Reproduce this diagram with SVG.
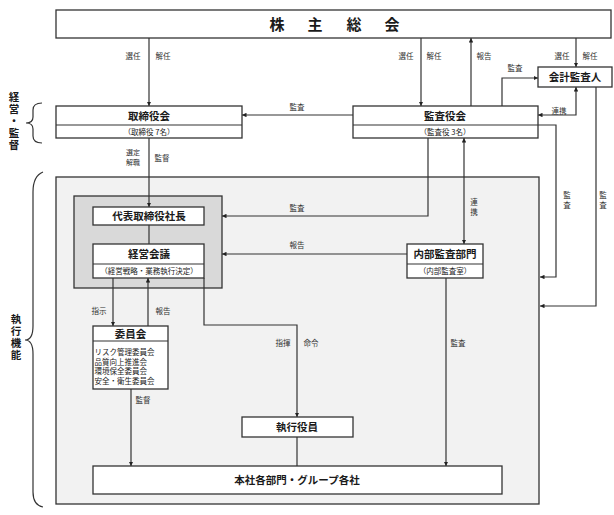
<svg xmlns="http://www.w3.org/2000/svg" width="614" height="515" viewBox="0 0 614 515">
<defs>
<marker id="ah" viewBox="0 0 8 8" refX="8" refY="4" markerWidth="4.5" markerHeight="4.5" markerUnits="userSpaceOnUse" orient="auto-start-reverse">
<path d="M0,0 L8,4 L0,8 z" fill="#222"/>
</marker>
<style>
text{font-family:"Noto Sans CJK JP","Noto Sans CJK SC",sans-serif;fill:#1a1a1a}
.box{fill:#fff;stroke:#333;stroke-width:1.3}
.t{font-size:10.5px;font-weight:700;text-anchor:middle}
.s{font-size:7.5px;text-anchor:middle}
.l{font-size:7.5px;text-anchor:middle;fill:#333}
.v{writing-mode:vertical-rl;letter-spacing:2.5px}
.li{font-size:7.5px}
.c{fill:none;stroke:#333;stroke-width:1.2}
.a{marker-end:url(#ah)}
.b{marker-start:url(#ah);marker-end:url(#ah)}
.br{fill:none;stroke:#333;stroke-width:1.2}
.side{font-size:10.5px;font-weight:700;text-anchor:middle;writing-mode:vertical-rl;letter-spacing:1.5px}
</style>
</defs>
<rect width="614" height="515" fill="#fff"/>

<g id="exec-area">
<rect x="56" y="177" width="483" height="327" fill="#f2f2f2" stroke="#333" stroke-width="1.3"/>
<rect x="74" y="196" width="148" height="92" fill="#d9d9d9" stroke="#333" stroke-width="1.3"/>
</g>

<g id="side-labels">
<path class="br" d="M42,103 Q33,103 33,110 V117 Q33,123 26,123 Q33,123 33,129 V136 Q33,143 42,143"/>
<text class="side" x="14" y="122">経営・監督</text>
<path class="br" d="M43,172 Q33,176 33,192 V326 Q33,340 25,340 Q33,340 33,354 V492 Q33,505 43,507"/>
<text class="side" x="16" y="338">執行機能</text>
</g>

<g id="connectors">
<path class="c a" d="M149,38 V106"/>
<path class="c a" d="M421,38 V106"/>
<path class="c a" d="M471,106 V38"/>
<path class="c a" d="M576,38 V67"/>
<path class="c a" d="M502,106 V78 H538"/>
<path class="c b" d="M576,87 V115 H538"/>
<path class="c a" d="M353,115 H242"/>
<path class="c a" d="M538,125 H556 V277 H540"/>
<path class="c a" d="M596,87 V306 H540"/>
<path class="c a" d="M428,138 V216 H222"/>
<path class="c b" d="M464,138 V244"/>
<path class="c a" d="M149,138 V207"/>
<path class="c" d="M149,225 V244"/>
<path class="c a" d="M407,254 H222"/>
<path class="c a" d="M446,278 V466"/>
<path class="c a" d="M113,278 V326"/>
<path class="c a" d="M148,326 V278"/>
<path class="c a" d="M204,278 V325 H297 V417"/>
<path class="c a" d="M131,389 V466"/>
<path class="c" d="M297,437 V466"/>

<text class="l" x="133" y="59">選任</text>
<text class="l" x="163" y="59">解任</text>
<text class="l" x="406" y="59">選任</text>
<text class="l" x="434" y="59">解任</text>
<text class="l" x="484" y="59">報告</text>
<text class="l" x="562" y="59">選任</text>
<text class="l" x="590" y="59">解任</text>
<text class="l" x="515" y="71">監査</text>
<text class="l" x="559" y="114">連携</text>
<text class="l" x="297" y="110">監査</text>
<text class="l v" x="567" y="201">監査</text>
<text class="l v" x="603" y="201">監査</text>
<text class="l" x="297" y="211">監査</text>
<text class="l" x="297" y="248">報告</text>
<text class="l v" x="474" y="208">連携</text>
<text class="l" style="font-size:7px" x="133" y="155">選定</text>
<text class="l" style="font-size:7px" x="133" y="164.5">解職</text>
<text class="l" x="162" y="161">監督</text>
<text class="l" x="99" y="314">指示</text>
<text class="l" x="163" y="314">報告</text>
<text class="l" x="283" y="346">指揮</text>
<text class="l" x="311" y="346">命令</text>
<text class="l" x="143" y="403">監督</text>
<text class="l" x="458" y="346">監査</text>
</g>

<g id="shareholders">
<rect class="box" x="56" y="10" width="555" height="28"/>
<text style="font-size:15px;font-weight:700;text-anchor:middle" x="277 315 354 392" y="29.5">株主総会</text>
</g>

<g id="board">
<rect class="box" x="56" y="106" width="186" height="32"/>
<line x1="56" y1="125" x2="242" y2="125" stroke="#333" stroke-width="1.2"/>
<text class="t" x="149" y="119.5">取締役会</text>
<text class="s" x="149" y="134.5">（取締役 7名）</text>
</g>

<g id="audit-board">
<rect class="box" x="353" y="106" width="185" height="32"/>
<line x1="353" y1="125" x2="538" y2="125" stroke="#333" stroke-width="1.2"/>
<text class="t" x="445" y="119.5">監査役会</text>
<text class="s" x="445" y="134.5">（監査役 3名）</text>
</g>

<g id="accounting-auditor">
<rect class="box" x="538" y="67" width="74" height="20"/>
<text class="t" x="575" y="81">会計監査人</text>
</g>

<g id="president">
<rect class="box" x="93" y="207" width="111" height="18"/>
<text class="t" x="149" y="220">代表取締役社長</text>
</g>

<g id="management-meeting">
<rect class="box" x="93" y="244" width="111" height="34"/>
<line x1="93" y1="264" x2="204" y2="264" stroke="#333" stroke-width="1.2"/>
<text class="t" x="149" y="258">経営会議</text>
<text class="s" x="149" y="274">（経営戦略・業務執行決定）</text>
</g>

<g id="internal-audit">
<rect class="box" x="407" y="244" width="76" height="34"/>
<line x1="407" y1="264" x2="483" y2="264" stroke="#333" stroke-width="1.2"/>
<text class="t" x="445" y="258">内部監査部門</text>
<text class="s" x="445" y="274">（内部監査室）</text>
</g>

<g id="committees">
<rect class="box" x="93" y="326" width="75" height="63"/>
<line x1="93" y1="341" x2="168" y2="341" stroke="#333" stroke-width="1.2"/>
<text class="t" x="130.5" y="337.5">委員会</text>
<text class="li" x="94.5" y="355">リスク管理委員会</text>
<text class="li" x="94.5" y="364.5">品質向上推進会</text>
<text class="li" x="94.5" y="374">環境保全委員会</text>
<text class="li" x="94.5" y="383.5">安全・衛生委員会</text>
</g>

<g id="executive-officers">
<rect class="box" x="242" y="417" width="111" height="20"/>
<text class="t" x="297" y="431">執行役員</text>
</g>

<g id="departments">
<rect class="box" x="93" y="466" width="409" height="28"/>
<text class="t" x="297" y="484">本社各部門・グループ各社</text>
</g>
</svg>
